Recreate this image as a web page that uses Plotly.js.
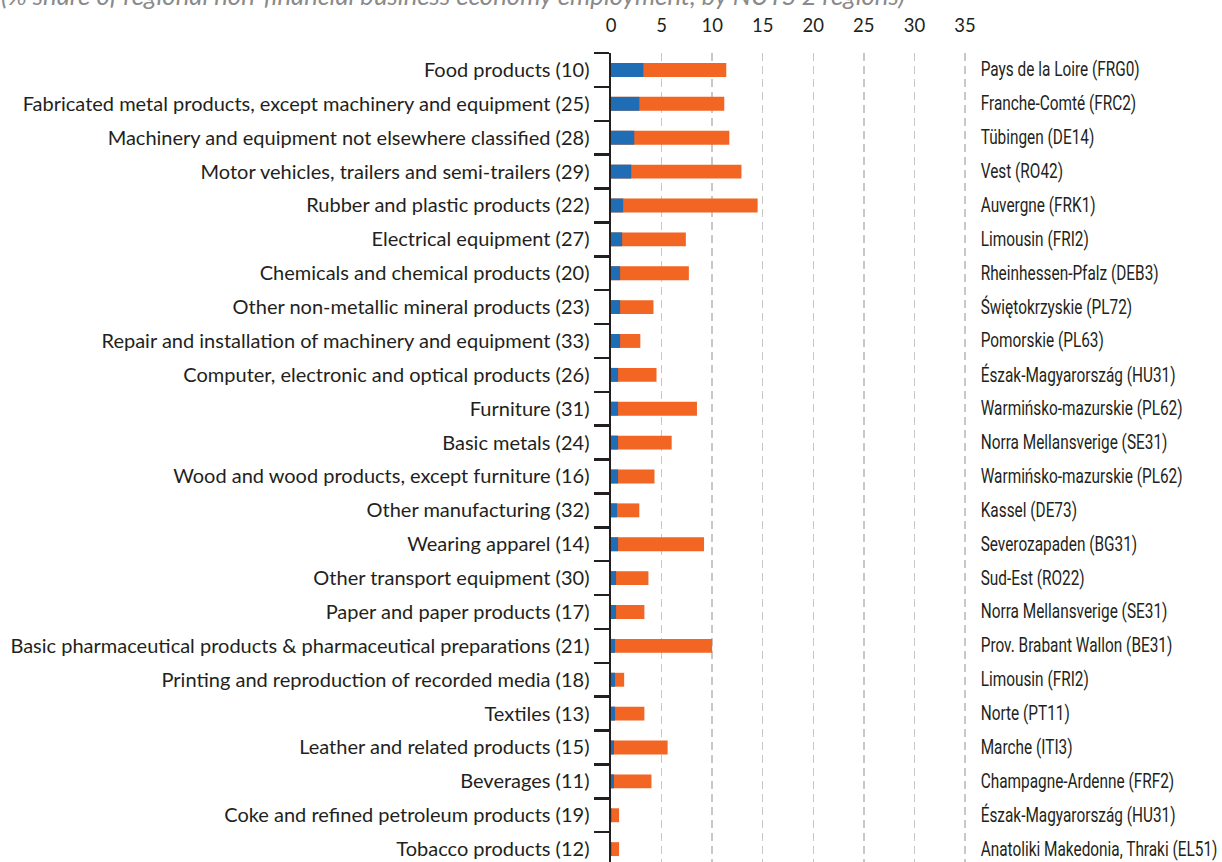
<!DOCTYPE html>
<html>
<head>
<meta charset="utf-8">
<script src="https://cdn.plot.ly/plotly-3.0.1.min.js"></script>
<style>html,body{margin:0;padding:0;background:#fff;}#chart{width:1222px;height:862px;}</style>
</head>
<body>
<div id="chart"></div>
<script>
const categories = [
  "Food products (10)",
  "Fabricated metal products, except machinery and equipment (25)",
  "Machinery and equipment not elsewhere classified (28)",
  "Motor vehicles, trailers and semi-trailers (29)",
  "Rubber and plastic products (22)",
  "Electrical equipment (27)",
  "Chemicals and chemical products (20)",
  "Other non-metallic mineral products (23)",
  "Repair and installation of machinery and equipment (33)",
  "Computer, electronic and optical products (26)",
  "Furniture (31)",
  "Basic metals (24)",
  "Wood and wood products, except furniture (16)",
  "Other manufacturing (32)",
  "Wearing apparel (14)",
  "Other transport equipment (30)",
  "Paper and paper products (17)",
  "Basic pharmaceutical products & pharmaceutical preparations (21)",
  "Printing and reproduction of recorded media (18)",
  "Textiles (13)",
  "Leather and related products (15)",
  "Beverages (11)",
  "Coke and refined petroleum products (19)",
  "Tobacco products (12)"
];
const regions = [
  "Pays de la Loire (FRG0)",
  "Franche-Comté (FRC2)",
  "Tübingen (DE14)",
  "Vest (RO42)",
  "Auvergne (FRK1)",
  "Limousin (FRI2)",
  "Rheinhessen-Pfalz (DEB3)",
  "Świętokrzyskie (PL72)",
  "Pomorskie (PL63)",
  "Észak-Magyarország (HU31)",
  "Warmińsko-mazurskie (PL62)",
  "Norra Mellansverige (SE31)",
  "Warmińsko-mazurskie (PL62)",
  "Kassel (DE73)",
  "Severozapaden (BG31)",
  "Sud-Est (RO22)",
  "Norra Mellansverige (SE31)",
  "Prov. Brabant Wallon (BE31)",
  "Limousin (FRI2)",
  "Norte (PT11)",
  "Marche (ITI3)",
  "Champagne-Ardenne (FRF2)",
  "Észak-Magyarország (HU31)",
  "Anatoliki Makedonia, Thraki (EL51)"
];
// EU average share (blue)
const euValues = [3.2, 2.8, 2.3, 2.0, 1.2, 1.1, 0.9, 0.9, 0.9, 0.7, 0.7, 0.7, 0.7, 0.6, 0.7, 0.5, 0.5, 0.4, 0.4, 0.4, 0.3, 0.3, 0.05, 0.05];
// Highest regional share (orange)
const maxValues = [11.4, 11.2, 11.7, 12.9, 14.5, 7.4, 7.7, 4.2, 2.9, 4.5, 8.5, 6.0, 4.3, 2.8, 9.2, 3.7, 3.3, 10.0, 1.3, 3.3, 5.6, 4.0, 0.8, 0.8];
const xTicks = [0, 5, 10, 15, 20, 25, 30, 35];
const titleText = "(% share of regional non-financial business economy employment, by NUTS 2 regions)";

const labelFont = "Lato, 'Open Sans', sans-serif";
const narrowFont = "Roboto, sans-serif";
const ink = "#231f20";

const traces = [
  {type: "bar", orientation: "h", y: categories, x: maxValues, marker: {color: "#f26522"}, width: 0.41, hoverinfo: "x+y"},
  {type: "bar", orientation: "h", y: categories, x: euValues, marker: {color: "#1f6db5"}, width: 0.41, hoverinfo: "x+y"}
];

const annotations = regions.map((r, i) => ({
  text: r, xref: "paper", x: 1, xanchor: "left", xshift: 11, align: "left",
  yref: "y", y: categories[i], yanchor: "middle", showarrow: false,
  font: {family: narrowFont, size: 19.5, color: ink}
}));
annotations.push({
  text: titleText,
  xref: "paper", x: -1.714, xanchor: "left", align: "left", yref: "paper", y: 1.0716, yanchor: "middle",
  showarrow: false, font: {family: labelFont, size: 25.7, color: "#8a8a8a", style: "italic"}
});

const layout = {
  width: 1222, height: 862,
  margin: {l: 611, r: 254, t: 53, b: 0, pad: 0},
  paper_bgcolor: "#ffffff", plot_bgcolor: "#ffffff",
  barmode: "overlay", showlegend: false,
  xaxis: {
    side: "top", range: [0, 35.3], tickvals: xTicks, ticktext: xTicks.map(String),
    showgrid: true, gridcolor: "#c8c8c8", gridwidth: 1.5, griddash: "8px,5px",
    zeroline: false, showline: false, ticks: "",
    tickfont: {family: labelFont, size: 18.5, color: ink}, ticklabelstandoff: 16, fixedrange: true
  },
  yaxis: {
    type: "category", categoryorder: "array", categoryarray: categories,
    range: [23.38, -0.5], showgrid: false, zeroline: false,
    showline: true, linecolor: ink, linewidth: 2.5,
    ticks: "outside", tickson: "boundaries", ticklen: 15, tickwidth: 2.5, tickcolor: ink,
    tickfont: {family: labelFont, size: 20, color: ink}, ticklabelstandoff: 15, fixedrange: true
  },
  annotations: annotations
};

const gd = document.getElementById("chart");
Plotly.newPlot(gd, traces, layout, {displayModeBar: false, staticPlot: true}).then(() => {
  // condense the region labels horizontally (the reference uses a condensed typeface)
  const groups = gd.querySelectorAll("g.annotation");
  const items = [];
  groups.forEach(g => {
    const idx = +g.getAttribute("data-index");
    if (idx < regions.length) {
      const tg = g.querySelector("g.annotation-text-g");
      const t = g.querySelector("text.annotation-text");
      if (tg && t) items.push({g: tg, t: t});
    }
  });
  let maxLen = 0;
  items.forEach(o => { maxLen = Math.max(maxLen, o.t.getComputedTextLength()); });
  const ratio = maxLen > 0 ? Math.min(1, 237 / maxLen) : 1;
  items.forEach(o => {
    const bb = o.g.getBBox();
    const x0 = bb.x;
    const prev = o.g.getAttribute("transform") || "";
    o.g.setAttribute("transform", prev + " translate(" + x0 + ",0) scale(" + ratio.toFixed(4) + ",1) translate(" + (-x0) + ",0)");
  });
});
</script>
</body>
</html>
